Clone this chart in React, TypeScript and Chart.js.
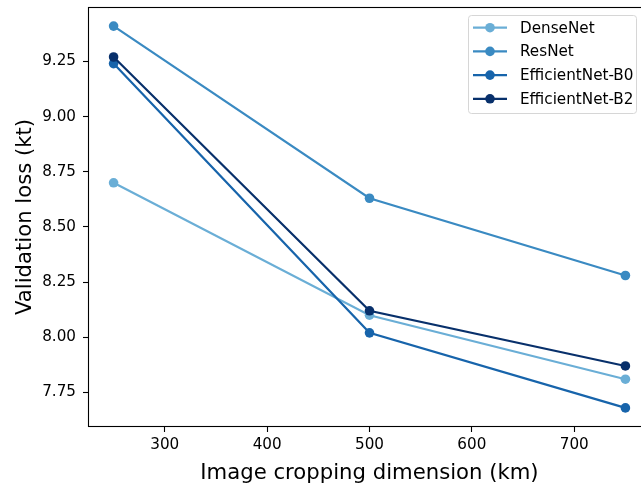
import React, { useEffect, useRef } from 'react';
import { Chart, registerables } from 'chart.js';
Chart.register(...registerables);

const xValues = [250, 500, 750];
const densenet = [8.7, 8.1, 7.81];
const resnet = [9.41, 8.63, 8.28];
const effB0 = [9.24, 8.02, 7.68];
const effB2 = [9.27, 8.12, 7.87];
const seriesNames = ['DenseNet', 'ResNet', 'EfficientNet-B0', 'EfficientNet-B2'];
const seriesValues = [densenet, resnet, effB0, effB2];
const seriesColors = ['#6aaed6', '#3a8ac2', '#1764ab', '#08306b'];
const xTicks = [300, 400, 500, 600, 700];
const yTicks = [7.75, 8.0, 8.25, 8.5, 8.75, 9.0, 9.25];
const xTitle = 'Image cropping dimension (km)';
const yTitle = 'Validation loss (kt)';

const FONT = 'DejaVu Sans';
const TICK_SIZE = 15.2;
const TITLE_SIZE = 21.2;
// The figure's right edge is cropped: the axes extend a little past the visible 641 px.
const CANVAS_W = 651;
const VIEW_W = 641;
const H = 484;

const framePlugin = {
  id: 'frame',
  afterDatasetsDraw(chart: any) {
    const { ctx, chartArea: a } = chart;
    const l = Math.round(a.left) + 0.5;
    const t = Math.round(a.top) + 0.5;
    const b = Math.round(a.bottom) - 0.5;
    const r = Math.round(a.right) - 0.5;
    ctx.save();
    ctx.strokeStyle = '#000';
    ctx.lineWidth = 1.1;
    ctx.strokeRect(l, t, r - l, b - t);
    ctx.restore();
  },
};

const legendPlugin = {
  id: 'mplLegend',
  afterDraw(chart: any) {
    const { ctx } = chart;
    const x0 = 468.5, y0 = 15.5, w = 168, h = 98, r = 3;
    ctx.save();
    ctx.beginPath();
    ctx.moveTo(x0 + r, y0);
    ctx.lineTo(x0 + w - r, y0);
    ctx.quadraticCurveTo(x0 + w, y0, x0 + w, y0 + r);
    ctx.lineTo(x0 + w, y0 + h - r);
    ctx.quadraticCurveTo(x0 + w, y0 + h, x0 + w - r, y0 + h);
    ctx.lineTo(x0 + r, y0 + h);
    ctx.quadraticCurveTo(x0, y0 + h, x0, y0 + h - r);
    ctx.lineTo(x0, y0 + r);
    ctx.quadraticCurveTo(x0, y0, x0 + r, y0);
    ctx.closePath();
    ctx.fillStyle = 'rgba(255,255,255,0.8)';
    ctx.fill();
    ctx.strokeStyle = '#d6d6d6';
    ctx.lineWidth = 1;
    ctx.stroke();
    ctx.font = `${TICK_SIZE}px "${FONT}"`;
    ctx.textBaseline = 'middle';
    ctx.textAlign = 'left';
    seriesNames.forEach((name, i) => {
      const y = 27.7 + i * 23.7;
      ctx.strokeStyle = seriesColors[i];
      ctx.lineWidth = 2.2;
      ctx.beginPath();
      ctx.moveTo(473, y);
      ctx.lineTo(507, y);
      ctx.stroke();
      ctx.fillStyle = seriesColors[i];
      ctx.beginPath();
      ctx.arc(490, y, 4.8, 0, Math.PI * 2);
      ctx.fill();
      ctx.fillStyle = '#000';
      ctx.fillText(name, 520, y + 1);
    });
    ctx.restore();
  },
};

export default function App() {
  const ref = useRef<HTMLCanvasElement>(null);
  useEffect(() => {
    document.body.style.margin = '0';
    const chart = new Chart(ref.current!, {
      type: 'line',
      data: {
        datasets: seriesNames.map((name, i) => ({
          label: name,
          data: xValues.map((x, j) => ({ x, y: seriesValues[i][j] })),
          borderColor: seriesColors[i],
          backgroundColor: seriesColors[i],
          pointBackgroundColor: seriesColors[i],
          pointBorderWidth: 0,
          pointRadius: 4.8,
          borderWidth: 2.2,
          tension: 0,
          fill: false,
          order: 3 - i,
          clip: false as any,
        })),
      },
      options: {
        animation: false,
        responsive: false,
        layout: { padding: { top: 7, right: 0, left: 0, bottom: 0 }, autoPadding: false },
        plugins: { legend: { display: false }, tooltip: { enabled: false } },
        scales: {
          x: {
            type: 'linear',
            min: 225,
            max: 775,
            afterBuildTicks: (s: any) => { s.ticks = xTicks.map((v) => ({ value: v })); },
            afterFit: (s: any) => { s.height = 57; s.paddingLeft = 0; s.paddingRight = 0; },
            grid: { drawOnChartArea: false, drawTicks: true, tickLength: 5, tickWidth: 1.1, color: '#000', tickColor: '#000' },
            border: { display: false },
            ticks: { color: '#000', font: { family: FONT, size: TICK_SIZE }, padding: 4, maxRotation: 0, autoSkip: false, callback: (v: any) => String(v) },
            title: { display: true, text: xTitle, color: '#000', font: { family: FONT, size: TITLE_SIZE }, padding: { top: 0, bottom: -2 } },
          },
          y: {
            type: 'linear',
            min: 7.5935,
            max: 9.4965,
            afterBuildTicks: (s: any) => { s.ticks = yTicks.map((v) => ({ value: v })); },
            afterFit: (s: any) => { s.width = 88; s.paddingTop = 0; s.paddingBottom = 0; },
            grid: { drawOnChartArea: false, drawTicks: true, tickLength: 5, tickWidth: 1.1, color: '#000', tickColor: '#000' },
            border: { display: false },
            ticks: { color: '#000', font: { family: FONT, size: TICK_SIZE }, padding: 7, autoSkip: false, callback: (v: any) => Number(v).toFixed(2) },
            title: { display: true, text: yTitle, color: '#000', font: { family: FONT, size: TITLE_SIZE }, padding: { top: 12.5, bottom: 0 } },
          },
        },
      },
      plugins: [framePlugin, legendPlugin],
    });
    return () => chart.destroy();
  }, []);
  return (
    <div style={{ width: VIEW_W, height: H, overflow: 'hidden', position: 'relative' }}>
      <canvas ref={ref} width={CANVAS_W} height={H} style={{ display: 'block', width: CANVAS_W, height: H }} />
    </div>
  );
}
